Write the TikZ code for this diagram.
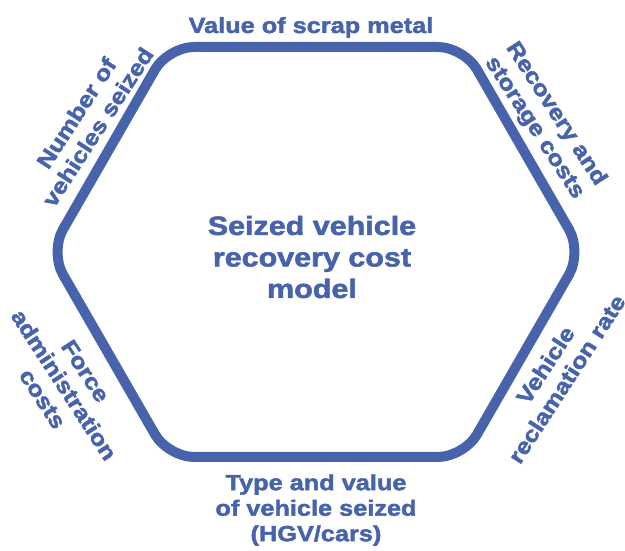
\documentclass[tikz,border=0pt]{standalone}
\usepackage{fontspec}
\newfontfamily\labfont[FakeStretch=1.15,FakeBold=2]{Liberation Sans Bold}
\definecolor{hexblue}{RGB}{71,99,171}
\begin{document}
\begin{tikzpicture}[x=1pt,y=1pt,
  lab/.style={text=hexblue,font=\labfont\fontsize{22}{25.5}\selectfont,align=center,inner sep=0pt},
  title/.style={text=hexblue,font=\labfont\fontsize{26.5}{31.5}\selectfont,align=center,inner sep=0pt},
  hexline/.style={draw=hexblue,line width=10pt,rounded corners=26pt,line join=round}]
\useasboundingbox (0,0) rectangle (625,550);
\coordinate (v1) at (50,298);
\coordinate (v2) at (168,503);
\coordinate (v3) at (464,503);
\coordinate (v4) at (582,298);
\coordinate (v5) at (464,93);
\coordinate (v6) at (168,93);
\draw[hexline] (v1) -- (v2) -- (v3) -- (v4) -- (v5) -- (v6) -- cycle;
\node[title] (center) at (312,293) {Seized vehicle\\recovery cost\\model};
\node[lab,anchor=base] (top) at (311,517) {Value of scrap metal};
\node[lab] (bottom) at (316,40) {Type and value\\of vehicle seized\\(HGV/cars)};
\node[lab,rotate=57] (ul) at (87,430) {Number of\\vehicles seized};
\node[lab,rotate=-57] (ur) at (545,429) {Recovery and\\storage costs};
\node[lab,rotate=-57] (ll) at (64,165) {Force\\administration\\costs};
\node[lab,rotate=57] (lr) at (556,178) {Vehicle\\reclamation rate};
\end{tikzpicture}
\end{document}
